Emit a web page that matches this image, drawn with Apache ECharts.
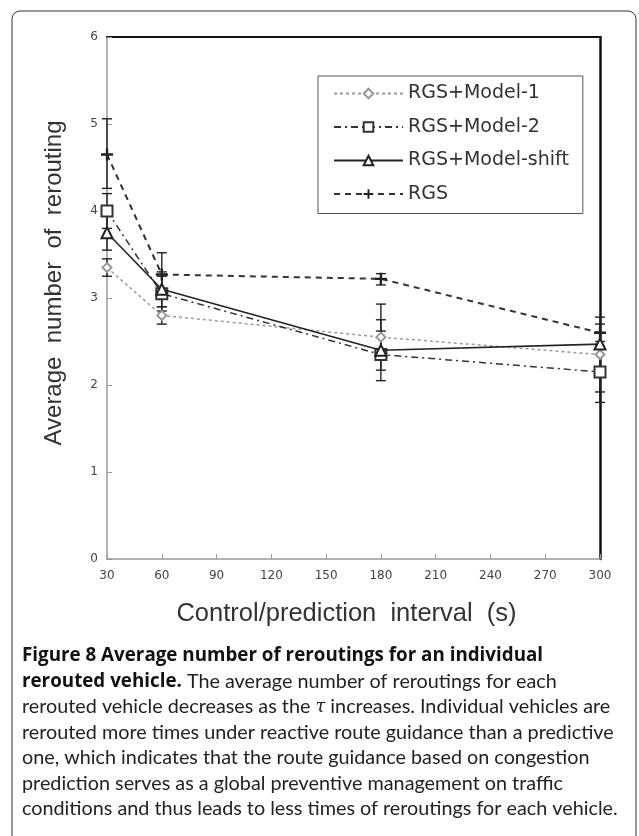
<!DOCTYPE html>
<html><head><meta charset="utf-8">
<script src="https://cdn.jsdelivr.net/npm/echarts@6/dist/echarts.min.js"></script>
<style>html,body{margin:0;padding:0;background:#fff}#c{width:639px;height:836px}</style>
</head><body><div id="c"></div>
<script>
// ---- data ----
const xValues = [30, 60, 180, 300];
const seriesNames = ['RGS+Model-1', 'RGS+Model-2', 'RGS+Model-shift', 'RGS'];
const model1 = [3.35, 2.80, 2.55, 2.35];
const model2 = [4.00, 3.05, 2.35, 2.15];
const modelShift = [3.75, 3.10, 2.40, 2.47];
const rgs = [4.65, 3.27, 3.22, 2.60];
// error bar ranges (low, high)
const model1Low = [3.25, 2.70, 2.30, 2.20];
const model1High = [3.45, 2.90, 2.75, 2.45];
const model2Low = [3.80, 2.85, 2.05, 1.80];
const model2High = [4.20, 3.25, 2.62, 2.50];
const shiftLow = [3.55, 2.90, 2.17, 1.92];
const shiftHigh = [3.95, 3.30, 2.93, 2.70];
const rgsLow = [4.26, 3.02, 3.15, 2.42];
const rgsHigh = [5.06, 3.52, 3.28, 2.78];
const yMin = 0, yMax = 6, yStep = 1;
const xMin = 30, xMax = 300, xStep = 30;
const xTitle = 'Control/prediction  interval  (s)';
const yTitle = 'Average  number  of  rerouting';
const captionLines = [
  '{b|Figure 8 Average number of reroutings for an individual}',
  '{b|rerouted vehicle.} The average number of reroutings for each',
  'rerouted vehicle decreases as the {i|τ} increases. Individual vehicles are',
  'rerouted more times under reactive route guidance than a predictive',
  'one, which indicates that the route guidance based on congestion',
  'prediction serves as a global preventive management on traffic',
  'conditions and thus leads to less times of reroutings for each vehicle.'
];

// ---- build ----
const pairs = (vals) => xValues.map((x, i) => [x, vals[i]]);
const errData = (lo, hi) => xValues.map((x, i) => [x, lo[i], hi[i]]);
const plusPath = 'path://M4,0h2v4h4v2h-4v4h-2v-4h-4v-2h4z';

function errRender(params, api) {
  const x = api.value(0), lo = api.value(1), hi = api.value(2);
  const a = api.coord([x, lo]), b = api.coord([x, hi]);
  const w = 5;
  const st = {stroke: '#222', lineWidth: 1.4};
  return {type: 'group', children: [
    {type: 'line', shape: {x1: a[0], y1: a[1], x2: b[0], y2: b[1]}, style: st},
    {type: 'line', shape: {x1: a[0] - w, y1: a[1], x2: a[0] + w, y2: a[1]}, style: st},
    {type: 'line', shape: {x1: b[0] - w, y1: b[1], x2: b[0] + w, y2: b[1]}, style: st}
  ]};
}
function errSeries(name, lo, hi) {
  return {name: name, type: 'custom', renderItem: errRender, data: errData(lo, hi),
    encode: {x: 0, y: [1, 2]}, z: 1, silent: true};
}

const chart = echarts.init(document.getElementById('c'), null, {renderer: 'canvas'});
const tickFont = {fontFamily: 'DejaVu Sans', fontSize: 12, color: '#444'};
const capSize = 19.8;
const captionGraphics = captionLines.map((t, i) => ({
  type: 'text', left: 22, top: 646 + i * 25.5,
  style: {
    text: t, fill: '#222', fontFamily: 'Lato', fontSize: capSize,
    rich: {
      b: {fontWeight: 'bold', fontFamily: 'Open Sans', fontSize: 18.8, fill: '#111'},
      i: {fontStyle: 'italic', fontFamily: 'DejaVu Serif', fontSize: capSize - 2, fill: '#222'}
    }
  }
}));

chart.setOption({
  animation: false,
  backgroundColor: '#fff',
  grid: {left: 107, right: 39, top: 37, bottom: 277, containLabel: false},
  legend: {
    orient: 'vertical', left: 318, top: 76,
    data: seriesNames,
    itemWidth: 69, itemHeight: 12, itemGap: 14.5,
    padding: [8, 14, 10, 15],
    borderColor: '#555', borderWidth: 1, backgroundColor: '#fff',
    textStyle: {fontFamily: 'DejaVu Sans', fontSize: 19, color: '#333'}
  },
  xAxis: [{
    type: 'value', min: xMin, max: xMax, interval: xStep,
    name: xTitle, nameLocation: 'middle', nameGap: 42,
    nameTextStyle: {fontFamily: 'Liberation Sans', fontSize: 25.5, color: '#333', padding: [0, 14, 0, 0]},
    axisLine: {onZero: false, lineStyle: {color: '#999', width: 1.5}},
    axisTick: {inside: true, length: 5, lineStyle: {color: '#999'}},
    axisLabel: Object.assign({margin: 11}, tickFont),
    splitLine: {show: false}
  }, {
    type: 'value', position: 'top', min: xMin, max: xMax,
    axisLine: {show: true, onZero: false, lineStyle: {color: '#111', width: 2.2}},
    axisTick: {show: false}, axisLabel: {show: false}, splitLine: {show: false}
  }],
  yAxis: [{
    type: 'value', min: yMin, max: yMax, interval: yStep,
    name: yTitle, nameLocation: 'middle', nameGap: 41,
    nameTextStyle: {fontFamily: 'Liberation Sans', fontSize: 24, color: '#333', padding: [0, 0, 0, 30]},
    axisLine: {show: true, onZero: false, lineStyle: {color: '#999', width: 1.5}},
    axisTick: {show: true, inside: true, length: 5, lineStyle: {color: '#999'}},
    axisLabel: Object.assign({margin: 9}, tickFont),
    splitLine: {show: false}
  }, {
    type: 'value', position: 'right', min: yMin, max: yMax,
    axisLine: {show: true, onZero: false, lineStyle: {color: '#111', width: 2.5}},
    axisTick: {show: false}, axisLabel: {show: false}, splitLine: {show: false}
  }],
  graphic: [
    {type: 'rect', shape: {x: 12, y: 11, width: 624, height: 900, r: 8},
     style: {fill: 'none', stroke: '#333', lineWidth: 1}, z: -10}
  ].concat(captionGraphics),
  series: [
    errSeries('e1', model1Low, model1High),
    errSeries('e2', model2Low, model2High),
    errSeries('e3', shiftLow, shiftHigh),
    errSeries('e4', rgsLow, rgsHigh),
    {name: seriesNames[0], type: 'line', data: pairs(model1), z: 3,
     symbol: 'emptyDiamond', symbolSize: 9,
     lineStyle: {color: '#999', width: 1.5, type: [3, 3]},
     itemStyle: {color: '#999', borderColor: '#999', borderWidth: 1.2}},
    {name: seriesNames[1], type: 'line', data: pairs(model2), z: 4,
     symbol: 'emptyRect', symbolSize: 11,
     lineStyle: {color: '#333', width: 1.5, type: [7, 4, 2, 4]},
     itemStyle: {color: '#333', borderColor: '#333', borderWidth: 1.3}},
    {name: seriesNames[2], type: 'line', data: pairs(modelShift), z: 5,
     symbol: 'emptyTriangle', symbolSize: 11,
     lineStyle: {color: '#222', width: 1.6, type: 'solid'},
     itemStyle: {color: '#222', borderColor: '#222', borderWidth: 1.3}},
    {name: seriesNames[3], type: 'line', data: pairs(rgs), z: 6,
     symbol: plusPath, symbolSize: 12,
     lineStyle: {color: '#333', width: 2, type: [6, 5]},
     itemStyle: {color: '#222', borderColor: '#222', borderWidth: 0}}
  ]
});
</script></body></html>
